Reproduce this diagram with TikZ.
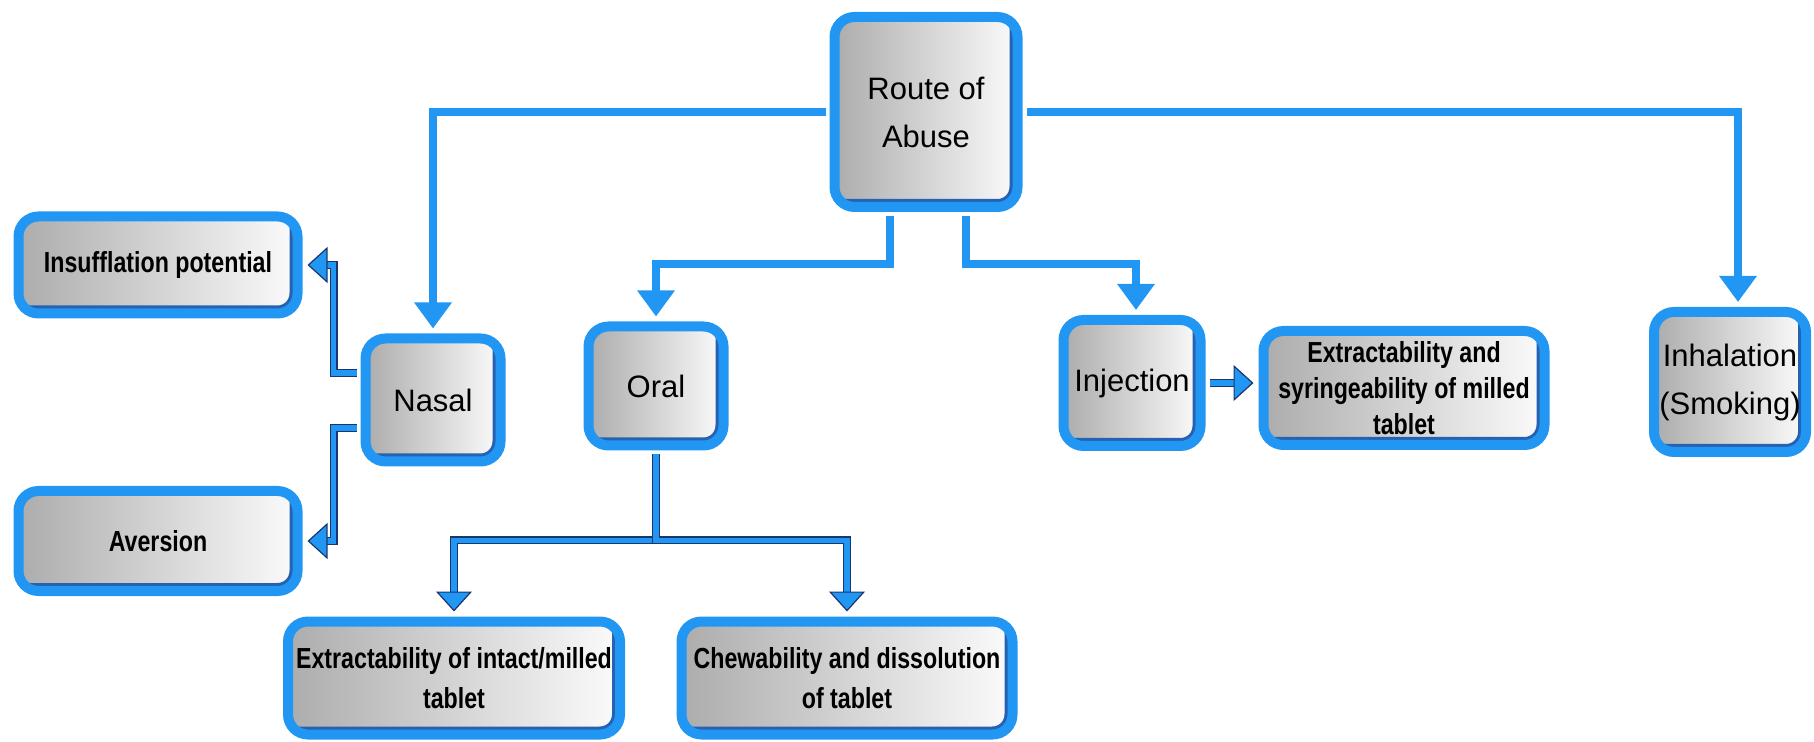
\documentclass[tikz,border=0pt]{standalone}
\usepackage{fontspec}
\setmainfont{Liberation Sans}
\newfontfamily\narrowfont[FakeStretch=0.8]{Liberation Sans}
\usetikzlibrary{arrows.meta}

\definecolor{routeblue}{RGB}{33,150,243}
\definecolor{shadeblue}{RGB}{38,98,178}
\definecolor{rimblue}{RGB}{25,55,110}

\tikzset{
    box/.style={draw=routeblue, line width=5pt, rounded corners=10pt,
        left color=gray!65, right color=gray!3, align=center, inner sep=0pt,
        path picture={\draw[shadeblue, line width=8pt]
            (path picture bounding box.north east) -- (path picture bounding box.south east)
            -- (path picture bounding box.south west);}},
    mainbox/.style={box, font=\fontsize{15.5}{24}\selectfont},
    subbox/.style={box, font=\narrowfont\bfseries\fontsize{14.5}{20}\selectfont},
    feed/.style={routeblue, line width=4pt, shorten <=2pt, shorten >=2.5pt,
        -{Triangle[width=18pt,length=13pt]}},
    split/.style={routeblue, line width=2.6pt, shorten <=2pt, shorten >=2.5pt,
        preaction={-, draw=rimblue, line width=4pt, shorten >=9pt},
        -{Triangle[width=18pt,length=10pt,color=rimblue,fill=routeblue,line width=0.6pt]}}
}

\begin{document}
\begin{tikzpicture}[x=0.5pt, y=-0.5pt]
    \useasboundingbox (0,0) rectangle (1814,742);

    \node[mainbox, minimum width=91.5pt, minimum height=95pt] (route) at (926,112) {Route of\\Abuse};

    \node[mainbox, minimum width=67.5pt, minimum height=61.5pt] (nasal) at (433,400) {Nasal};
    \node[mainbox, minimum width=67.5pt, minimum height=59.5pt] (oral) at (656,386) {Oral};
    \node[mainbox, minimum width=68.5pt, minimum height=63pt] (inject) at (1132,383) {Injection};
    \node[mainbox, minimum width=76pt, minimum height=70pt] (inhal) at (1730,382) {Inhalation\\(Smoking)};

    \node[subbox, minimum width=139.5pt, minimum height=48.5pt] (insuff) at (158,265) {Insufflation potential};
    \node[subbox, minimum width=139.5pt, minimum height=50pt] (aversion) at (158,541) {Aversion};
    \node[subbox, font=\narrowfont\bfseries\fontsize{14.5}{18}\selectfont,
        minimum width=140.5pt, minimum height=57pt] (extsyr) at (1404,388) {Extractability and\\syringeability of milled\\tablet};
    \node[subbox, minimum width=166pt, minimum height=56.5pt] (extint) at (454,678) {Extractability of intact/milled\\tablet};
    \node[subbox, minimum width=165.5pt, minimum height=56.5pt] (chew) at (847,678) {Chewability and dissolution\\of tablet};

    \draw[feed] (route.west) -| (nasal.north);
    \draw[feed] (route.east) -| ([xshift=4pt]inhal.north);
    \draw[feed] ([xshift=-18pt]route.south) -- ++(0,-26pt) -| (oral.north);
    \draw[feed] ([xshift=20pt]route.south) -- ++(0,-26pt) -| ([xshift=2pt]inject.north);

    \draw[split] ([yshift=13.5pt]nasal.west) -- ++(-13.5pt,0) |- (insuff.east);
    \draw[split] ([yshift=-14pt]nasal.west) -- ++(-13.5pt,0) |- (aversion.east);
    \draw[split] (oral.south) -- ++(0,-45pt) -| (extint.north);
    \draw[split] (oral.south) -- ++(0,-45pt) -| (chew.north);
    \draw[split] (inject.east) -- (inject.east -| extsyr.west);
\end{tikzpicture}
\end{document}
